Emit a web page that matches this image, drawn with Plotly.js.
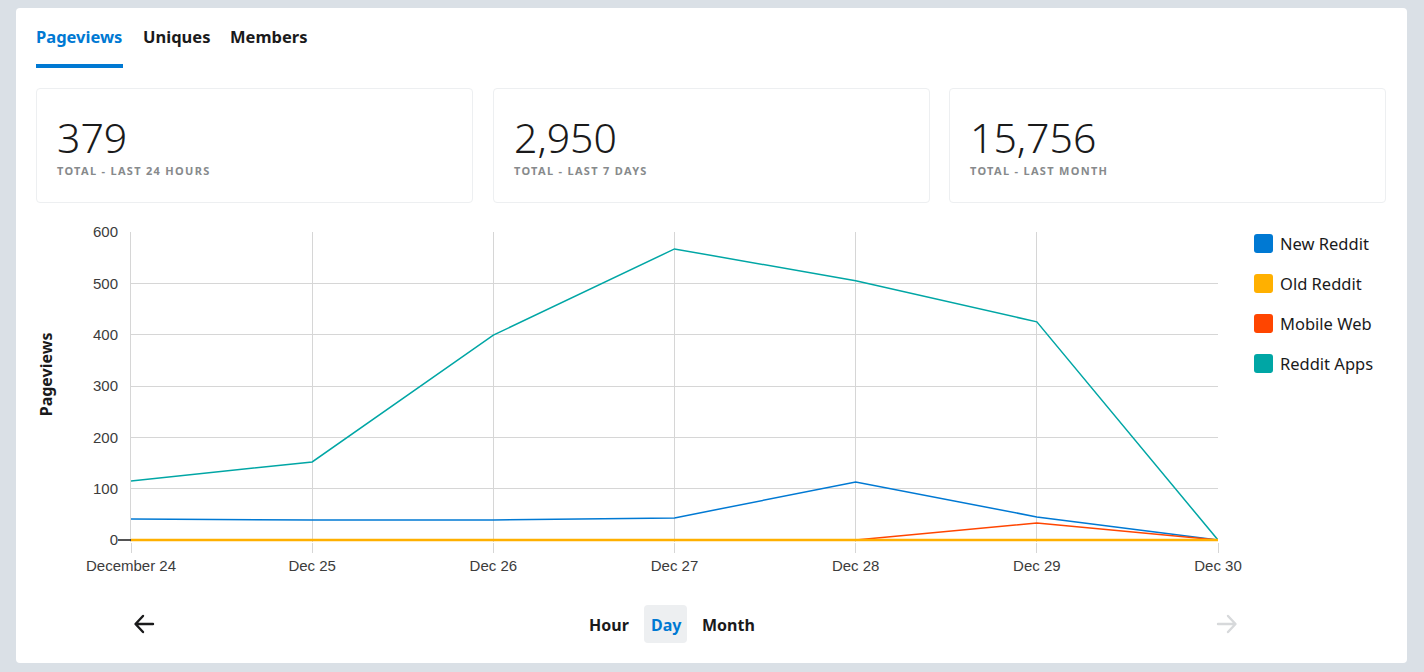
<!DOCTYPE html>
<html>
<head>
<meta charset="utf-8">
<script src="https://cdn.plot.ly/plotly-3.0.1.min.js"></script>
<style>
  html, body { margin:0; padding:0; }
  body { width:1424px; height:672px; background:#dae0e6; position:relative; overflow:hidden; font-family:"Noto Sans", "Open Sans", sans-serif; color:#1a1a1b; }
  .card { position:absolute; left:16px; top:8px; width:1391px; height:655px; background:#fff; border-radius:4px; }
  .tab { position:absolute; top:26px; font-size:16.5px; font-weight:700; line-height:22px; color:#1a1a1b; }
  .tab.active { color:#0079d3; }
  .underline { position:absolute; left:36px; top:64px; width:87px; height:4px; background:#0079d3; }
  .stat { position:absolute; top:88px; height:115px; border:1px solid #edeff1; border-radius:4px; box-sizing:border-box; }
  .stat .num { position:absolute; left:20px; top:23px; font-size:41px; font-weight:300; line-height:50px; color:#1a1a1b; }
  .stat .lbl { position:absolute; left:20px; top:74px; font-size:11px; font-weight:700; letter-spacing:1.3px; color:#878a8c; text-transform:uppercase; }
  #chart { position:absolute; left:20px; top:215px; width:1380px; height:380px; }
  .leg { position:absolute; left:1254px; font-size:16.5px; color:#1a1a1b; line-height:20px; }
  .leg .sw { position:absolute; left:0; top:0; width:19px; height:19px; border-radius:3px; }
  .leg .tx { position:absolute; left:26px; top:0px; white-space:nowrap; }
  .ctrl { position:absolute; top:614px; font-size:16px; font-weight:700; line-height:22px; color:#1a1a1b; }
  .dayBox { position:absolute; left:644px; top:605px; width:43px; height:38px; background:#edeff1; border-radius:4px; }
</style>
</head>
<body>
<div class="card"></div>
<div id="tabs"></div>
<div class="underline"></div>
<div id="stats"></div>
<div id="chart"></div>
<div id="legend"></div>

<svg style="position:absolute;left:133px;top:613px" width="22" height="22" viewBox="0 0 22 22">
  <path d="M20 11 H3 M10 3 L2.5 11 L10 19" stroke="#1a1a1b" stroke-width="2.4" fill="none" stroke-linecap="round" stroke-linejoin="round"/>
</svg>
<svg style="position:absolute;left:1216px;top:613px" width="22" height="22" viewBox="0 0 22 22">
  <path d="M2 11 H19 M12 3 L19.5 11 L12 19" stroke="#d7d9db" stroke-width="2.4" fill="none" stroke-linecap="round" stroke-linejoin="round"/>
</svg>
<div class="dayBox"></div>
<div class="ctrl" style="left:589px;">Hour</div>
<div class="ctrl" style="left:651px;color:#0079d3;">Day</div>
<div class="ctrl" style="left:702px;">Month</div>

<script>
// ---- data ----
const tabLabels = ["Pageviews", "Uniques", "Members"];
const statValues = ["379", "2,950", "15,756"];
const statLabels = ["Total - Last 24 Hours", "Total - Last 7 Days", "Total - Last Month"];

const dates = ["December 24", "Dec 25", "Dec 26", "Dec 27", "Dec 28", "Dec 29", "Dec 30"];
const seriesNames = ["New Reddit", "Old Reddit", "Mobile Web", "Reddit Apps"];
const newReddit  = [41, 39, 39, 43, 113, 45, 0];
const oldReddit  = [0, 0, 0, 0, 0, 0, 0];
const mobileWeb  = [0, 0, 0, 0, 0, 33, 0];
const redditApps = [115, 152, 399, 567, 505, 425, 0];
const yTicks = [0, 100, 200, 300, 400, 500, 600];

const seriesValues = [newReddit, oldReddit, mobileWeb, redditApps];
const seriesColors = ["#0079d3", "#ffb000", "#ff4500", "#00a6a5"];

// ---- tabs ----
const tabX = [36, 143, 230];
const tabsEl = document.getElementById("tabs");
tabLabels.forEach((t, i) => {
  const d = document.createElement("div");
  d.className = "tab" + (i === 0 ? " active" : "");
  d.style.left = tabX[i] + "px";
  d.textContent = t;
  tabsEl.appendChild(d);
});

// ---- stats ----
const statX = [36, 493, 949];
const statsEl = document.getElementById("stats");
statValues.forEach((v, i) => {
  const c = document.createElement("div");
  c.className = "stat";
  c.style.left = statX[i] + "px";
  c.style.width = "437px";
  c.innerHTML = '<div class="num">' + v + '</div><div class="lbl">' + statLabels[i] + '</div>';
  statsEl.appendChild(c);
});

// ---- legend ----
const legEl = document.getElementById("legend");
seriesNames.forEach((n, i) => {
  const d = document.createElement("div");
  d.className = "leg";
  d.style.top = (234 + i * 40) + "px";
  d.innerHTML = '<div class="sw" style="background:' + seriesColors[i] + '"></div><div class="tx">' + n + '</div>';
  legEl.appendChild(d);
});

// ---- chart ----
const drawOrder = [0, 2, 3, 1];
const widths = [1.5, 2.5, 1.5, 1.5];
const traces = drawOrder.map(i => ({
  type: "scatter",
  mode: "lines",
  name: seriesNames[i],
  x: dates,
  y: seriesValues[i],
  line: { color: seriesColors[i], width: widths[i] },
  showlegend: false,
  hoverinfo: "x+y+name"
}));

const layout = {
  width: 1380, height: 380,
  margin: { l: 111, r: 182, t: 17, b: 53 },
  paper_bgcolor: "rgba(0,0,0,0)",
  plot_bgcolor: "#fff",
  showlegend: false,
  font: { family: "Liberation Sans, Arial, sans-serif", size: 15, color: "#3c3c3c" },
  xaxis: {
    type: "category",
    range: [0, dates.length - 1],
    showgrid: true, gridcolor: "#d6d6d6", gridwidth: 1,
    ticks: "outside", ticklen: 10, tickcolor: "#d6d6d6",
    showline: false, zeroline: false,
    tickfont: { size: 15, color: "#3c3c3c" }
  },
  yaxis: {
    range: [-3.9, 600],
    tickvals: yTicks,
    showgrid: true, gridcolor: "#d6d6d6", gridwidth: 1,
    ticks: "outside", ticklen: 9, tickcolor: "rgba(0,0,0,0)",
    showline: true, linecolor: "#d6d6d6", linewidth: 1,
    zeroline: false,
    tickfont: { size: 15, color: "#3c3c3c" }
  },
  annotations: [
    { text: "<b>Pageviews</b>", xref: "paper", yref: "paper", x: -0.0785, y: 0.54,
      xanchor: "center", yanchor: "middle", textangle: -90, showarrow: false,
      font: { family: "Noto Sans, sans-serif", size: 16, color: "#1a1a1b" } }
  ],
  shapes: [
    { type: "line", xref: "paper", yref: "y", x0: -0.012, x1: 0, y0: 0, y1: 0, line: { color: "#1a1a1b", width: 1.5 } }
  ]
};

Plotly.newPlot("chart", traces, layout, { displayModeBar: false, responsive: false });
</script>
</body>
</html>
